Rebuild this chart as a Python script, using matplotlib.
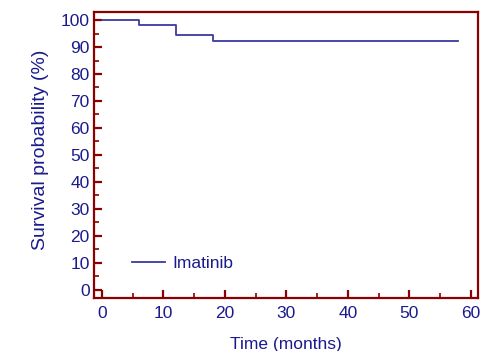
import matplotlib.pyplot as plt
from matplotlib.ticker import MultipleLocator

# ---- data ----
TIME_MONTHS = [0, 6, 12, 18, 58]
SURVIVAL_PCT = [100, 98.3, 94.6, 92.2, 92.2]
SERIES_LABEL = "Imatinib"

AXIS_COLOR = "#8b0000"
TEXT_COLOR = "#1a1a8c"
LINE_COLOR = "#3a3aa0"
FONT_SIZE = 12.5

plt.rcParams["font.family"] = ["Liberation Sans", "DejaVu Sans"]

fig = plt.figure(figsize=(4.82, 3.51), dpi=100)
ax = fig.add_axes([0.195, 0.151, 0.797, 0.815])

ax.step(TIME_MONTHS, SURVIVAL_PCT, where="post", color=LINE_COLOR,
        linewidth=1.3, label=SERIES_LABEL)

ax.set_xlim(-1.3, 61.2)
ax.set_ylim(-3, 103)
ax.xaxis.set_major_locator(MultipleLocator(10))
ax.xaxis.set_minor_locator(MultipleLocator(5))
ax.yaxis.set_major_locator(MultipleLocator(10))
ax.yaxis.set_minor_locator(MultipleLocator(5))

for side in ax.spines.values():
    side.set_color(AXIS_COLOR)
    side.set_linewidth(1.6)

ax.tick_params(which="both", direction="in", color=AXIS_COLOR,
               labelcolor=TEXT_COLOR, labelsize=FONT_SIZE,
               top=False, right=False)
ax.tick_params(which="major", length=6, width=1.6)
ax.tick_params(which="minor", length=3.5, width=1.2)
ax.tick_params(axis="y", pad=3)
ax.tick_params(axis="x", pad=6)

ax.set_xlabel("Time (months)", color=TEXT_COLOR, fontsize=FONT_SIZE,
              labelpad=11)
ax.set_ylabel("Survival probability (%)", color=TEXT_COLOR, fontsize=14)
ax.yaxis.set_label_coords(-0.117, 0.517)

leg = ax.legend(loc="lower left", bbox_to_anchor=(0.1, 0.095),
                frameon=False, fontsize=FONT_SIZE, handlelength=1.85,
                handletextpad=0.45, borderaxespad=0, borderpad=0)
for t in leg.get_texts():
    t.set_color(TEXT_COLOR)

fig.savefig("out.png", dpi=100)
